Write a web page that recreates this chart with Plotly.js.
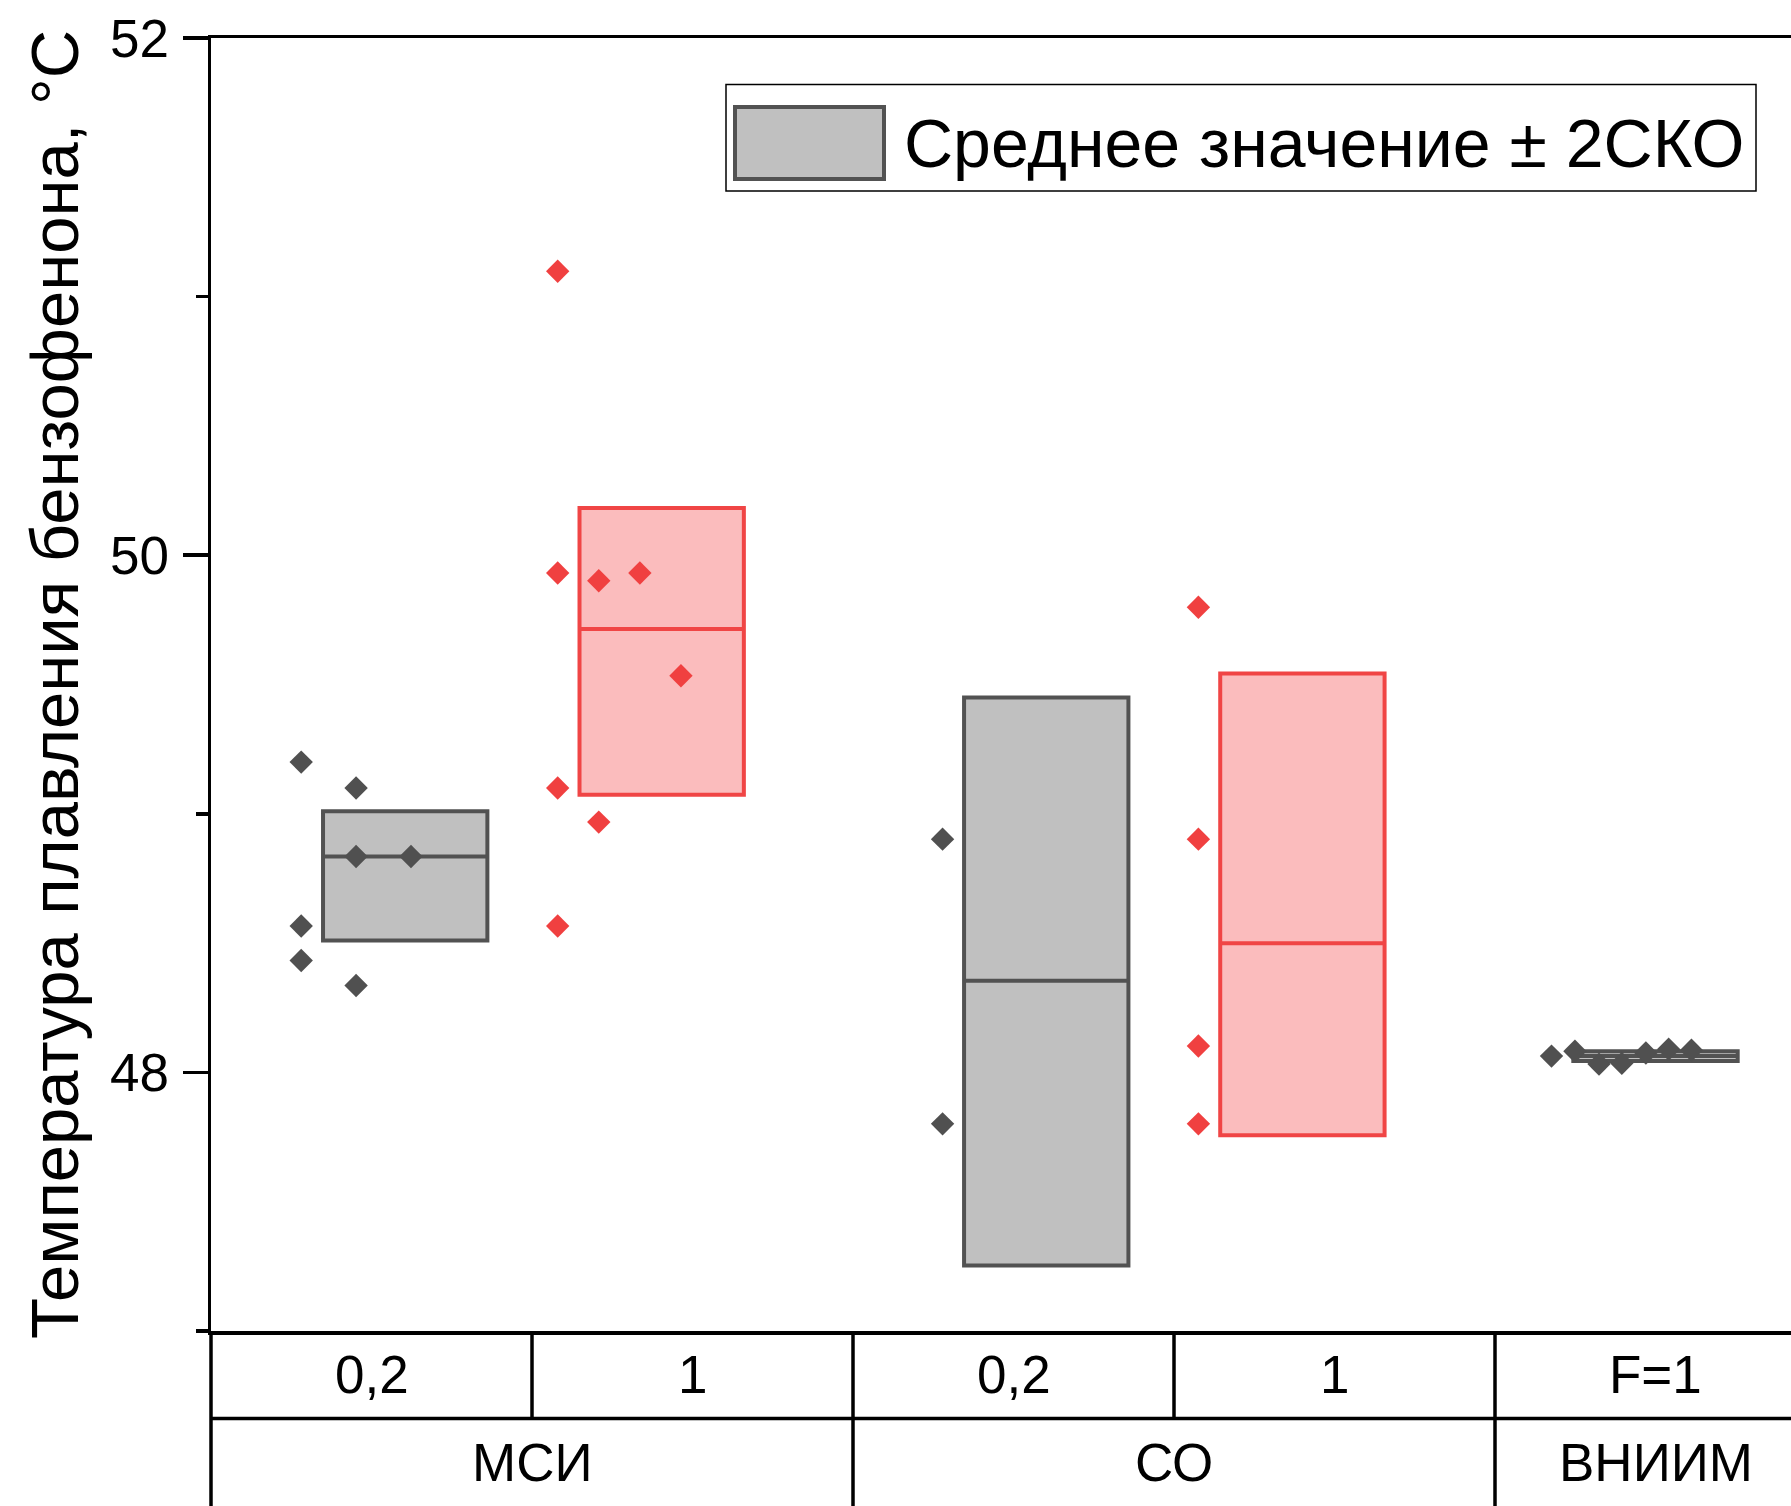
<!DOCTYPE html>
<html><head><meta charset="utf-8">
<script src="https://cdn.plot.ly/plotly-3.0.1.min.js"></script>
<style>html,body{margin:0;padding:0;overflow:hidden;background:#fff}</style>
</head><body><div id="chart" style="width:1791px;height:1506px"></div>
<script>
// ---- data ----
const subLabels   = ['0,2', '1', '0,2', '1', 'F=1'];
const groupLabels = ['МСИ', 'СО', 'ВНИИМ'];
const groupSpans  = [[0, 1], [2, 3], [4, 4]];
const seriesOf    = ['gray', 'red', 'gray', 'red', 'gray'];
const boxLower    = [48.51, 49.074, 47.253, 47.757, 48.044];
const boxUpper    = [49.01, 50.183, 49.45, 49.543, 48.082];
const boxMedian   = [48.835, 49.715, 48.354, 48.499, 48.063];
const ptsMSI02  = [49.20, 49.10, 48.835, 48.835, 48.566, 48.433, 48.336];
const ptsMSI1   = [51.098, 49.931, 49.901, 49.931, 49.534, 49.10, 48.968, 48.566];
const ptsCO02   = [48.902, 47.801];
const ptsCO1    = [49.799, 48.902, 48.102, 47.801];
const ptsVNIIM  = [48.063, 48.082, 48.032, 48.035, 48.075, 48.090, 48.086];
const pointSets = [ptsMSI02, ptsMSI1, ptsCO02, ptsCO1, ptsVNIIM];
const legendText = 'Среднее значение ± 2СКО';
const yTitle = 'Температура плавления бензофенона, °С';

// ---- layout / style ----
const boxOffset = [0.105, -0.096, 0.102, -0.1, 0];
const boxWidth = 0.512;
const jitter = [
  [-0.219, -0.048, -0.048, 0.123, -0.219, -0.219, -0.048],
  [-0.42, -0.42, -0.292, -0.164, -0.036, -0.42, -0.292, -0.42],
  [-0.221, -0.221],
  [-0.424, -0.424, -0.424, -0.424],
  [-0.324, -0.251, -0.176, -0.105, -0.030, 0.041, 0.112]
];
const styles = {
  gray: {fill: '#c0c0c0', line: '#525252', pt: '#505050'},
  red:  {fill: '#fbbcbd', line: '#f04545', pt: '#f04040'}
};
const FONT = 'Liberation Sans, Arial, sans-serif';
const W = 1791, H = 1506, ML = 211, MR = 0, MT = 38, MB = 175;
const PW = W - ML - MR, PH = H - MT - MB;
const xRange = [-0.5, -0.5 + PW / 321];
const px = v => (v - xRange[0]) / (xRange[1] - xRange[0]);
const pxX = p => (p - ML) / PW;       // pixel -> paper x
const pxY = p => (H - MB - p) / PH;   // pixel -> paper y
const BOXLW = 4;

const traces = [];
['gray', 'red'].forEach(s => {
  const idx = seriesOf.map((v, i) => v === s ? i : -1).filter(i => i >= 0);
  traces.push({
    type: 'bar', x: idx.map(i => i + boxOffset[i]),
    base: idx.map(i => boxLower[i]), y: idx.map(i => boxUpper[i] - boxLower[i]),
    width: boxWidth, marker: {color: styles[s].fill, line: {color: styles[s].line, width: BOXLW}},
    showlegend: false, hoverinfo: 'skip'
  });
});
['gray', 'red'].forEach(s => {
  const xs = [], ys = [];
  seriesOf.forEach((v, i) => {
    if (v !== s) return;
    const c = i + boxOffset[i];
    xs.push(c - boxWidth / 2, c + boxWidth / 2, null);
    ys.push(boxMedian[i], boxMedian[i], null);
  });
  traces.push({type: 'scatter', mode: 'lines', x: xs, y: ys,
    line: {color: styles[s].line, width: BOXLW}, showlegend: false, hoverinfo: 'skip'});
});
pointSets.forEach((arr, i) => {
  traces.push({type: 'scatter', mode: 'markers',
    x: arr.map((v, k) => i + jitter[i][k]), y: arr,
    marker: {symbol: 'diamond', size: 18, color: styles[seriesOf[i]].pt, line: {width: 0}},
    showlegend: false, cliponaxis: false});
});

const shapes = [];
const row1 = pxY(H - MB + 87.6), row2 = pxY(H);
const LW = 3.5;
shapes.push({type: 'line', xref: 'paper', yref: 'paper', x0: 0, x1: 0, y0: 0, y1: row2, line: {color: '#000', width: LW}});
shapes.push({type: 'line', xref: 'paper', yref: 'paper', x0: 0, x1: 1.01, y0: row1, y1: row1, line: {color: '#000', width: LW}});
[0.5, 1.5, 2.5, 3.5].forEach(b => {
  const isGroup = groupSpans.some(g => Math.abs(g[1] + 0.5 - b) < 1e-6);
  shapes.push({type: 'line', xref: 'paper', yref: 'paper', x0: px(b), x1: px(b), y0: 0, y1: isGroup ? row2 : row1, line: {color: '#000', width: LW}});
});
// legend
shapes.push({type: 'rect', xref: 'paper', yref: 'paper', x0: pxX(726), x1: pxX(1756), y0: pxY(84.5), y1: pxY(191),
  line: {color: '#000', width: 1.5}, fillcolor: '#fff'});
shapes.push({type: 'rect', xref: 'paper', yref: 'paper', x0: pxX(735), x1: pxX(884), y0: pxY(107), y1: pxY(179),
  line: {color: styles.gray.line, width: 4}, fillcolor: styles.gray.fill});

const annotations = [];
subLabels.forEach((t, i) => annotations.push({xref: 'paper', yref: 'paper', x: px(i), y: pxY(1374),
  text: t, showarrow: false, xanchor: 'center', yanchor: 'middle', font: {family: FONT, size: 53, color: '#000'}}));
groupLabels.forEach((t, g) => annotations.push({xref: 'paper', yref: 'paper',
  x: px((groupSpans[g][0] + groupSpans[g][1]) / 2), y: pxY(1462),
  text: t, showarrow: false, xanchor: 'center', yanchor: 'middle', font: {family: FONT, size: 53, color: '#000'}}));
annotations.push({xref: 'paper', yref: 'paper', x: pxX(902), y: pxY(143), text: legendText, showarrow: false,
  xanchor: 'left', yanchor: 'middle', font: {family: FONT, size: 68, color: '#000'}});

const layout = {
  width: W, height: H, margin: {l: ML, r: MR, t: MT, b: MB}, paper_bgcolor: '#fff', plot_bgcolor: '#fff',
  barmode: 'overlay', showlegend: false, font: {family: FONT, color: '#000'},
  xaxis: {range: xRange, showgrid: false, zeroline: false, showticklabels: false, ticks: '',
    showline: true, linecolor: '#000', linewidth: LW, mirror: true},
  yaxis: {range: [47, 52], showgrid: false, zeroline: false, tick0: 48, dtick: 2,
    ticks: 'outside', ticklen: 25, tickwidth: LW, tickcolor: '#000',
    minor: {dtick: 1, ticks: 'outside', ticklen: 12, tickwidth: LW, tickcolor: '#000'},
    showline: true, linecolor: '#000', linewidth: LW, mirror: false,
    tickfont: {family: FONT, size: 53, color: '#000'}, ticklabelstandoff: 3,
    title: {text: yTitle, font: {family: FONT, size: 67, color: '#000'}, standoff: 10}},
  shapes: shapes, annotations: annotations
};
Plotly.newPlot('chart', traces, layout, {staticPlot: true, displayModeBar: false});
</script></body></html>
